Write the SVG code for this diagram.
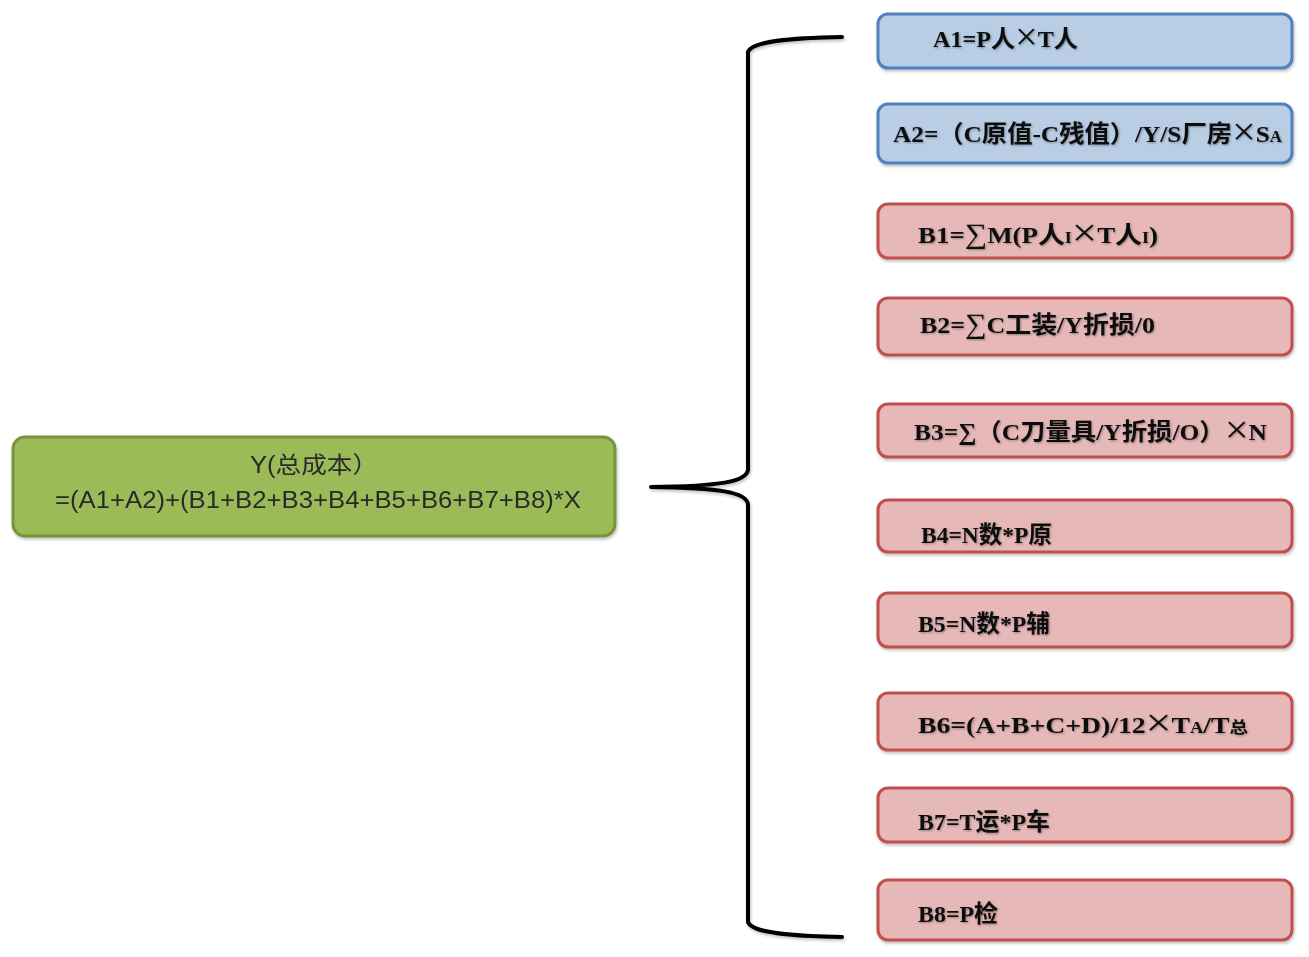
<svg xmlns="http://www.w3.org/2000/svg" width="1309" height="957" viewBox="0 0 1309 957">
<defs>
<filter id="sh" x="-5%" y="-20%" width="110%" height="150%">
<feDropShadow dx="1" dy="2" stdDeviation="1.5" flood-color="#000" flood-opacity="0.25"/>
</filter>
<filter id="tsh" x="-5%" y="-20%" width="110%" height="150%">
<feDropShadow dx="1" dy="1" stdDeviation="0.8" flood-color="#000" flood-opacity="0.35"/>
</filter>
</defs>
<style>
.blue{fill:#b9cde5;stroke:#4f81bd;stroke-width:3}
.red{fill:#e6b9b8;stroke:#c0504d;stroke-width:3}
.green{fill:#9bbb59;stroke:#77933c;stroke-width:3}
.t{font-family:"Liberation Serif","Noto Sans CJK SC",serif;font-weight:bold;font-size:24px;fill:#111}
.g{font-family:"Liberation Sans","Noto Sans CJK SC",sans-serif;font-size:23px;fill:#2a2a2a;text-anchor:middle}
.sm{font-size:16px}
.x{font-size:40px;font-weight:normal}
.sig{font-size:28px;font-weight:normal}
.brace{fill:none;stroke:#000;stroke-width:4;stroke-linecap:round;stroke-linejoin:round}
</style>
<rect width="1309" height="957" fill="#fff"/>
<g id="connectors">
<path class="brace" filter="url(#sh)" d="M842,37 C790,38 752,41 748,52 L748,470 C746,482 720,486 651,487 C720,488 746,492 748,504 L748,922 C752,933 790,936 842,937"/>
</g>
<g id="Y" filter="url(#sh)">
<rect class="green" x="13" y="437" width="602" height="99" rx="12"/>
<text class="g" x="314" y="473" textLength="128" lengthAdjust="spacingAndGlyphs">Y(总成本）</text>
<text class="g" x="318" y="508" textLength="526" lengthAdjust="spacingAndGlyphs">=(A1+A2)+(B1+B2+B3+B4+B5+B6+B7+B8)*X</text>
</g>
<g id="A1">
<rect class="blue" filter="url(#sh)" x="878" y="14" width="414" height="54" rx="10"/>
<text class="t" filter="url(#tsh)" x="933" y="47" textLength="145" lengthAdjust="spacingAndGlyphs">A1=P人<tspan class="x" dy="3">×</tspan><tspan dy="-3">T人</tspan></text>
</g>
<g id="A2">
<rect class="blue" filter="url(#sh)" x="878" y="104" width="414" height="59" rx="10"/>
<text class="t" filter="url(#tsh)" x="893" y="142" textLength="389" lengthAdjust="spacingAndGlyphs">A2=（C原值-C残值）/Y/S厂房<tspan class="x" dy="3">×</tspan><tspan dy="-3">S</tspan><tspan class="sm">A</tspan></text>
</g>
<g id="B1">
<rect class="red" filter="url(#sh)" x="878" y="204" width="414" height="54" rx="10"/>
<text class="t" filter="url(#tsh)" x="918" y="243" textLength="240" lengthAdjust="spacingAndGlyphs">B1=<tspan class="sig">∑</tspan>M(P人<tspan class="sm">I</tspan><tspan class="x" dy="3">×</tspan><tspan dy="-3">T人</tspan><tspan class="sm">I</tspan>)</text>
</g>
<g id="B2">
<rect class="red" filter="url(#sh)" x="878" y="298" width="414" height="57" rx="10"/>
<text class="t" filter="url(#tsh)" x="920" y="333" textLength="235" lengthAdjust="spacingAndGlyphs">B2=<tspan class="sig">∑</tspan>C工装/Y折损/0</text>
</g>
<g id="B3">
<rect class="red" filter="url(#sh)" x="878" y="404" width="414" height="53" rx="10"/>
<text class="t" filter="url(#tsh)" x="914" y="440" textLength="353" lengthAdjust="spacingAndGlyphs">B3=∑（C刀量具/Y折损/O）<tspan class="x" dy="3">×</tspan><tspan dy="-3">N</tspan></text>
</g>
<g id="B4">
<rect class="red" filter="url(#sh)" x="878" y="500" width="414" height="52" rx="10"/>
<text class="t" filter="url(#tsh)" x="921" y="543" textLength="131" lengthAdjust="spacingAndGlyphs">B4=N数*P原</text>
</g>
<g id="B5">
<rect class="red" filter="url(#sh)" x="878" y="593" width="414" height="54" rx="10"/>
<text class="t" filter="url(#tsh)" x="918" y="632" textLength="132" lengthAdjust="spacingAndGlyphs">B5=N数*P辅</text>
</g>
<g id="B6">
<rect class="red" filter="url(#sh)" x="878" y="693" width="414" height="57" rx="10"/>
<text class="t" filter="url(#tsh)" x="918" y="733" textLength="330" lengthAdjust="spacingAndGlyphs">B6=(A+B+C+D)/12<tspan class="x" dy="3">×</tspan><tspan dy="-3">T</tspan><tspan class="sm">A</tspan>/T<tspan class="sm">总</tspan></text>
</g>
<g id="B7">
<rect class="red" filter="url(#sh)" x="878" y="788" width="414" height="54" rx="10"/>
<text class="t" filter="url(#tsh)" x="918" y="830" textLength="132" lengthAdjust="spacingAndGlyphs">B7=T运*P车</text>
</g>
<g id="B8">
<rect class="red" filter="url(#sh)" x="878" y="880" width="414" height="60" rx="10"/>
<text class="t" filter="url(#tsh)" x="918" y="922" textLength="80" lengthAdjust="spacingAndGlyphs">B8=P检</text>
</g>
</svg>
